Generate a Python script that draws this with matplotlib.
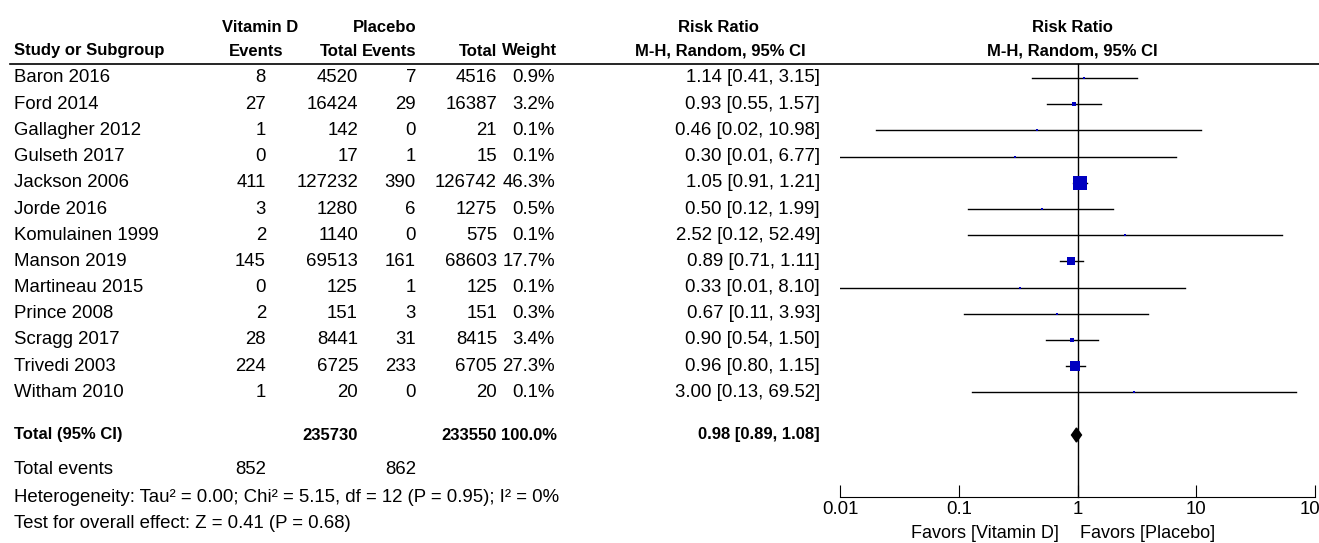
import numpy as np
import matplotlib.pyplot as plt

plt.rcParams['font.family'] = ['Liberation Sans', 'DejaVu Sans']

studies = ["Baron 2016", "Ford 2014", "Gallagher 2012", "Gulseth 2017", "Jackson 2006",
           "Jorde 2016", "Komulainen 1999", "Manson 2019", "Martineau 2015", "Prince 2008",
           "Scragg 2017", "Trivedi 2003", "Witham 2010"]
vit_events = [8, 27, 1, 0, 411, 3, 2, 145, 0, 2, 28, 224, 1]
vit_total = [4520, 16424, 142, 17, 127232, 1280, 1140, 69513, 125, 151, 8441, 6725, 20]
pla_events = [7, 29, 0, 1, 390, 6, 0, 161, 1, 3, 31, 233, 0]
pla_total = [4516, 16387, 21, 15, 126742, 1275, 575, 68603, 125, 151, 8415, 6705, 20]
weights = [0.9, 3.2, 0.1, 0.1, 46.3, 0.5, 0.1, 17.7, 0.1, 0.3, 3.4, 27.3, 0.1]
rr = [1.14, 0.93, 0.46, 0.30, 1.05, 0.50, 2.52, 0.89, 0.33, 0.67, 0.90, 0.96, 3.00]
lo = [0.41, 0.55, 0.02, 0.01, 0.91, 0.12, 0.12, 0.71, 0.01, 0.11, 0.54, 0.80, 0.13]
hi = [3.15, 1.57, 10.98, 6.77, 1.21, 1.99, 52.49, 1.11, 8.10, 3.93, 1.50, 1.15, 69.52]
total_rr, total_lo, total_hi = 0.98, 0.89, 1.08
ticks = [0.01, 0.1, 1, 10, 100]
tick_labels = ["0.01", "0.1", "1", "10", "100"]

W, H = 1319, 543
fig = plt.figure(figsize=(W / 100, H / 100), dpi=100)
ax = fig.add_axes([0, 0, 1, 1])
ax.set_xlim(0, W)
ax.set_ylim(H, 0)
ax.axis('off')

fs = 13.4
fsb = 12.0
row_y = [78 + 26.2 * i for i in range(len(studies))]

def t(x, y, s, ha='left', bold=False):
    ax.text(x, y, s, ha=ha, va='center', fontsize=fsb if bold else fs,
            fontweight='bold' if bold else 'normal')

# headers
t(260, 27, "Vitamin D", 'center', True)
t(385, 27, "Placebo", 'center', True)
t(718, 27, "Risk Ratio", 'center', True)
t(1072, 27, "Risk Ratio", 'center', True)
t(14, 51, "Study or Subgroup", bold=True)
t(283, 51, "Events", 'right', True)
t(358, 51, "Total", 'right', True)
t(416, 51, "Events", 'right', True)
t(497, 51, "Total", 'right', True)
t(557, 51, "Weight", 'right', True)
t(720, 51, "M-H, Random, 95% CI", 'center', True)
t(1072, 51, "M-H, Random, 95% CI", 'center', True)
ax.plot([10, W], [64, 64], color='black', lw=1.2)

for i, y in enumerate(row_y):
    t(14, y, studies[i])
    t(266, y, str(vit_events[i]), 'right')
    t(358, y, str(vit_total[i]), 'right')
    t(416, y, str(pla_events[i]), 'right')
    t(497, y, str(pla_total[i]), 'right')
    t(555, y, f"{weights[i]:.1f}%", 'right')
    t(820, y, f"{rr[i]:.2f} [{lo[i]:.2f}, {hi[i]:.2f}]", 'right')

ty = 435
t(14, ty, "Total (95% CI)", bold=True)
t(358, ty, str(sum(vit_total)), 'right', True)
t(497, ty, str(sum(pla_total)), 'right', True)
t(557, ty, "100.0%", 'right', True)
t(820, ty, f"{total_rr:.2f} [{total_lo:.2f}, {total_hi:.2f}]", 'right', True)
t(14, 470, "Total events")
t(266, 470, str(sum(vit_events)), 'right')
t(416, 470, str(sum(pla_events)), 'right')
t(14, 497, "Heterogeneity: Tau\u00b2 = 0.00; Chi\u00b2 = 5.15, df = 12 (P = 0.95); I\u00b2 = 0%")
t(14, 523, "Test for overall effect: Z = 0.41 (P = 0.68)")

# forest panel
x0, x1 = 840, 1315
fa = fig.add_axes([x0 / W, 0, (x1 - x0) / W, 1])
fa.set_xscale('log')
fa.set_xlim(0.01, 100)
fa.set_ylim(H, 0)
fa.patch.set_alpha(0)
for s in ['top', 'left', 'right']:
    fa.spines[s].set_visible(False)
fa.spines['bottom'].set_position(('data', 497))
fa.set_yticks([])
fa.set_xticks(ticks)
fa.set_xticklabels(tick_labels, fontsize=fs)
fa.minorticks_off()
fa.tick_params(axis='x', direction='in', length=9, pad=3)
fa.plot([1, 1], [64, 497], color='black', lw=1)

for i, y in enumerate(row_y):
    fa.plot([lo[i], hi[i]], [y, y], color='black', lw=1)
    side = max(2.0, 14 * np.sqrt(weights[i] / 46.3))
    fa.plot(rr[i], y, marker='s', color='#0000c0', markersize=side * 0.72, mew=0)

dx = [total_lo, total_rr, total_hi, total_rr]
dy = [ty, ty - 7, ty, ty + 7]
fa.fill(dx, dy, color='black')

ax.text(911, 533, "Favors [Vitamin D]", ha='left', va='center', fontsize=fs * 0.97)
ax.text(1080, 533, "Favors [Placebo]", ha='left', va='center', fontsize=fs * 0.97)

fig.savefig("out.png", dpi=100)
